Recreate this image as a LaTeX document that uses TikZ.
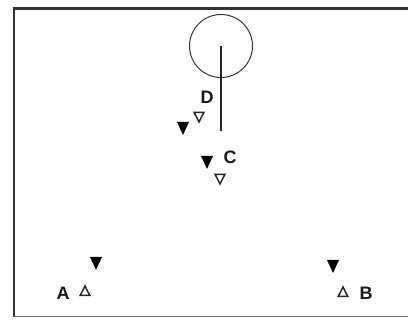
\documentclass[tikz,border=0pt]{standalone}
\usepackage{fontspec}
\setmainfont{Liberation Sans}
\begin{document}
\begin{tikzpicture}[x=1pt,y=-1pt,
  lbl/.style={font=\fontsize{18}{18}\selectfont\bfseries, inner sep=0pt, text=black!90},
  ftri/.pic={\fill[black] (-6,-6) -- (6,-6) -- (0,7) -- cycle;},
  odtri/.pic={\draw[black!85, line width=1.5] (-4.8,-4.5) -- (4.8,-4.5) -- (0,5) -- cycle;},
  outri/.pic={\draw[black!85, line width=1.5] (-4.8,4.5) -- (4.8,4.5) -- (0,-5) -- cycle;}]
\useasboundingbox (0,0) rectangle (408,320);
% frame
\draw[black!80, line width=2.6] (410,8.5) -- (14,8.5) -- (14,317);
\draw[black!55, line width=1] (14,317) -- (410,317);
% circle and stem
\node[draw=black!80, line width=1, circle, minimum size=63, inner sep=0] (disc) at (221,46) {};
\coordinate (stemend) at (221,131);
\draw[black!85, line width=1.5] (disc.center) -- (stemend);
% D group
\node[lbl] (D) at (207,97) {D};
\pic at (199,117) {odtri};
\pic at (183,128) {ftri};
% C group
\pic at (207,162) {ftri};
\node[lbl] (C) at (230,157) {C};
\pic at (220,179) {odtri};
% A group
\pic at (96,263) {ftri};
\node[lbl] (A) at (63,293) {A};
\pic at (85,291) {outri};
% B group
\pic at (333,266) {ftri};
\pic at (343,292) {outri};
\node[lbl] (B) at (366,293) {B};
\end{tikzpicture}
\end{document}
